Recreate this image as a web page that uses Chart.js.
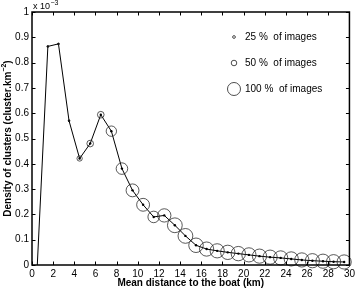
<!DOCTYPE html>
<html>
<head>
<meta charset="utf-8">
<script src="https://cdn.jsdelivr.net/npm/chart.js@4.4.0/dist/chart.umd.min.js"></script>
<style>
  html, body { margin: 0; padding: 0; background: #fff; }
  #wrap { width: 358px; height: 288px; position: relative; }
</style>
</head>
<body>
<div id="wrap"><canvas id="c" width="358" height="288"></canvas></div>
<script>
// ---- data (density in units of 10^-3 cluster.km^-2) ----
const distanceKm = [0.5, 1.5, 2.5, 3.5, 4.5, 5.5, 6.5, 7.5, 8.5, 9.5, 10.5, 11.5, 12.5, 13.5, 14.5,
                    15.5, 16.5, 17.5, 18.5, 19.5, 20.5, 21.5, 22.5, 23.5, 24.5, 25.5, 26.5, 27.5, 28.5, 29.5];
const density = [0, 0.864, 0.874, 0.570, 0.421, 0.480, 0.594, 0.529, 0.381, 0.295, 0.238, 0.190, 0.196, 0.157, 0.115,
                 0.078, 0.063, 0.056, 0.050, 0.045, 0.040, 0.035, 0.031, 0.028, 0.024, 0.020, 0.017, 0.015, 0.013, 0.012];
const percentImages = [0, 10, 10, 10, 36, 45, 45, 70, 78, 87, 87, 78, 90, 100, 100,
                       98, 96, 96, 97, 97, 96, 96, 96, 96, 96, 96, 96, 96, 96, 96];
const xTickValues = [0, 2, 4, 6, 8, 10, 12, 14, 16, 18, 20, 22, 24, 26, 28, 30];
const yTickValues = [0, 0.1, 0.2, 0.3, 0.4, 0.5, 0.6, 0.7, 0.8, 0.9, 1];
const yTickLabels = ['0', '0.1', '0.2', '0.3', '0.4', '0.5', '0.6', '0.7', '0.8', '0.9', '1'];
const legendPercents = [25, 50, 100];
const legendLabels = ['25 %  of images', '50 %  of images', '100 %  of images'];
const xTitle = 'Mean distance to the boat (km)';
const yTitleMain = 'Density of clusters (cluster.km';
const yTitleSup = '\u22122';
const yTitleEnd = ')';

// ---- style helpers ----
const FONT = '"Liberation Sans", Arial, Helvetica, sans-serif';
const radiusFor = p => 7.4 * p / 100;

const points = distanceKm.map((x, i) => ({ x: x, y: density[i] }));
const circles = distanceKm.map((x, i) => ({ x: x, y: density[i], p: percentImages[i] }));

const framePlugin = {
  id: 'frame',
  afterDraw(chart) {
    const ctx = chart.ctx;
    const a = chart.chartArea;
    const xs = chart.scales.x, ys = chart.scales.y;
    ctx.save();
    ctx.strokeStyle = '#000';
    ctx.lineWidth = 1.5;
    ctx.strokeRect(a.left, a.top, a.right - a.left, a.bottom - a.top);
    ctx.lineWidth = 1;
    const tl = 3.5;
    ctx.beginPath();
    xTickValues.forEach(v => {
      const px = Math.round(xs.getPixelForValue(v)) + 0.5;
      ctx.moveTo(px, a.bottom); ctx.lineTo(px, a.bottom - tl);
      ctx.moveTo(px, a.top); ctx.lineTo(px, a.top + tl);
    });
    yTickValues.forEach(v => {
      const py = Math.round(ys.getPixelForValue(v)) + 0.5;
      ctx.moveTo(a.left, py); ctx.lineTo(a.left + tl, py);
      ctx.moveTo(a.right, py); ctx.lineTo(a.right - tl, py);
    });
    ctx.stroke();

    // exponent label
    ctx.fillStyle = '#000';
    ctx.textBaseline = 'alphabetic';
    ctx.textAlign = 'left';
    ctx.font = '9px ' + FONT;
    ctx.fillText('x 10', a.left + 1, 9);
    const w = ctx.measureText('x 10').width;
    ctx.font = '7px ' + FONT;
    ctx.fillText('\u22123', a.left + 1 + w + 0.5, 5);

    // in-plot legend
    ctx.textBaseline = 'middle';
    ctx.font = '10px ' + FONT;
    ctx.strokeStyle = '#222';
    const lx = a.left + 202, ly0 = a.top + 25, dy = 26;
    legendPercents.forEach((p, i) => {
      const cy = ly0 + i * dy;
      const r = radiusFor(p) * (i === 2 ? 0.88 : 0.75);
      ctx.beginPath();
      ctx.lineWidth = 0.8;
      ctx.arc(lx, cy, r, 0, Math.PI * 2);
      ctx.stroke();
      ctx.fillText(legendLabels[i], lx + 11, cy);
    });

    // y title with superscript
    ctx.save();
    ctx.translate(8, (a.top + a.bottom) / 2);
    ctx.rotate(-Math.PI / 2);
    ctx.textBaseline = 'middle';
    ctx.font = 'bold 10px ' + FONT;
    const w1 = ctx.measureText(yTitleMain).width;
    ctx.font = 'bold 7px ' + FONT;
    const w2 = ctx.measureText(yTitleSup).width;
    ctx.font = 'bold 10px ' + FONT;
    const w3 = ctx.measureText(yTitleEnd).width;
    let sx = -(w1 + w2 + w3) / 2;
    ctx.textAlign = 'left';
    ctx.fillText(yTitleMain, sx, 0);
    ctx.font = 'bold 7px ' + FONT;
    ctx.fillText(yTitleSup, sx + w1, -4);
    ctx.font = 'bold 10px ' + FONT;
    ctx.fillText(yTitleEnd, sx + w1 + w2, 0);
    ctx.restore();

    ctx.restore();
  }
};

new Chart(document.getElementById('c'), {
  type: 'scatter',
  data: {
    datasets: [
      {
        type: 'line',
        data: points,
        borderColor: '#000',
        borderWidth: 1,
        backgroundColor: '#000',
        pointRadius: ctx => (ctx.raw && ctx.raw.y === 0 ? 0 : 1.2),
        pointBorderWidth: 0,
        pointBackgroundColor: '#000',
        tension: 0,
        fill: false,
        clip: false,
        order: 2
      },
      {
        type: 'scatter',
        data: circles,
        showLine: false,
        pointRadius: ctx => (ctx.raw ? radiusFor(ctx.raw.p) : 0),
        pointBorderColor: '#222',
        pointBorderWidth: 0.75,
        pointBackgroundColor: 'rgba(0,0,0,0)',
        clip: false,
        order: 1
      }
    ]
  },
  options: {
    responsive: false,
    animation: false,
    events: [],
    layout: { padding: { left: 0, right: 7, top: 12, bottom: 0 } },
    plugins: { legend: { display: false }, tooltip: { enabled: false } },
    scales: {
      x: {
        type: 'linear',
        min: 0, max: 30,
        grid: { display: false, drawTicks: false },
        border: { display: false },
        afterBuildTicks: s => { s.ticks = xTickValues.map(v => ({ value: v })); },
        afterFit: s => { s.height = 23; },
        ticks: {
          color: '#000', padding: 3, maxRotation: 0, autoSkip: false,
          font: { family: FONT, size: 10 },
          callback: v => String(v)
        },
        title: {
          display: true, text: xTitle, color: '#000',
          padding: { top: 0, bottom: -1 },
          font: { family: FONT, size: 10, weight: 'bold' }
        }
      },
      y: {
        type: 'linear',
        min: 0, max: 1,
        grid: { display: false, drawTicks: false },
        border: { display: false },
        afterBuildTicks: s => { s.ticks = yTickValues.map(v => ({ value: v })); },
        afterFit: s => { s.width = 32; },
        ticks: {
          color: '#000', padding: 3, autoSkip: false,
          font: { family: FONT, size: 10 },
          callback: (v) => { const i = yTickValues.findIndex(t => Math.abs(t - v) < 1e-9); return i >= 0 ? yTickLabels[i] : ''; }
        }
      }
    }
  },
  plugins: [framePlugin]
});
</script>
</body>
</html>
